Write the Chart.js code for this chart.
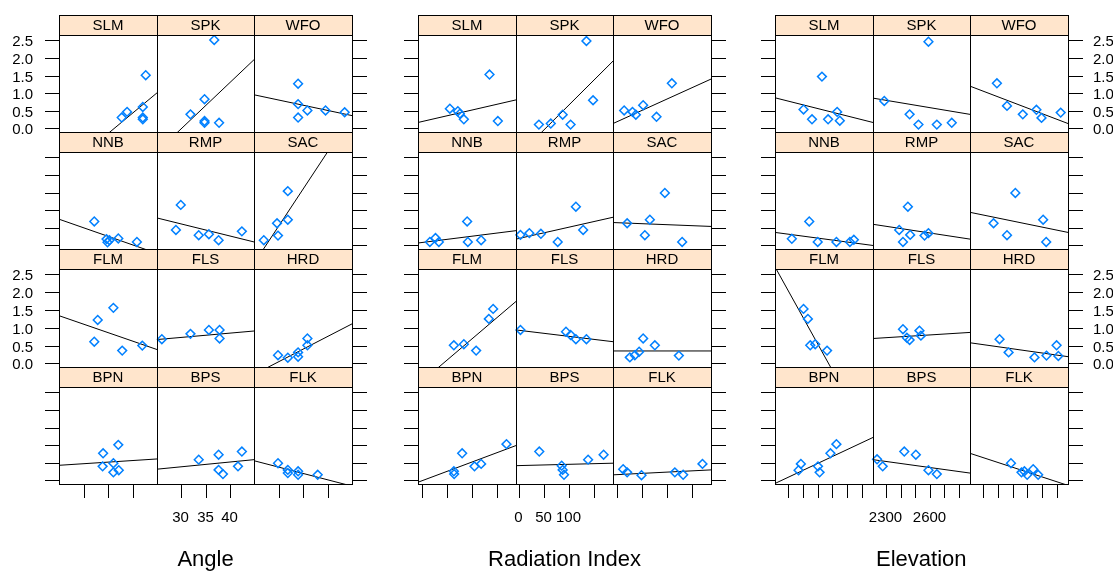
<!DOCTYPE html>
<html>
<head>
<meta charset="utf-8">
<script src="https://cdn.jsdelivr.net/npm/chart.js@4.4.1/dist/chart.umd.min.js"></script>
<style>
  html, body { margin: 0; padding: 0; background: #fff; overflow: hidden; }
  #wrap { position: relative; width: 1113px; height: 571px; overflow: hidden; }
  #wrap canvas { position: absolute; }
  .title { position: absolute; top: 546px; font: 22px "Liberation Sans", Arial, sans-serif; color: #000; transform: translateX(-50%); white-space: nowrap; }
</style>
</head>
<body>
<div id="wrap"></div>
<script>
// sites, in panel order (top-left to bottom-right)
const sites = ['SLM', 'SPK', 'WFO', 'NNB', 'RMP', 'SAC', 'FLM', 'FLS', 'HRD', 'BPN', 'BPS', 'FLK'];

// Angle
const angleRange = [25, 45];
const angleTicks = [30, 35, 40];
const angleLabels = ['30', '35', '40'];
const angleX = [
  [37.8, 38.9, 42.7, 42.1, 42.1, 42.1],
  [36.8, 31.9, 34.8, 34.8, 34.8, 37.8],
  [34.0, 34.0, 34.0, 35.9, 39.6, 43.5],
  [32.2, 34.7, 34.9, 35.3, 37.1, 40.9],
  [29.9, 28.9, 33.6, 35.7, 37.7, 42.5],
  [27.0, 29.7, 29.9, 31.9, 31.9],
  [32.9, 32.2, 36.1, 37.9, 42.0],
  [26.0, 31.9, 35.7, 37.9, 37.9],
  [29.9, 31.9, 34.0, 34.0, 35.9, 35.9],
  [34.0, 37.1, 33.9, 36.1, 36.1, 37.2],
  [33.6, 37.7, 37.7, 38.6, 41.7, 42.5],
  [29.9, 31.9, 31.9, 34.0, 34.0, 38.0]
];
const angleY = [
  [0.31, 0.47, 1.51, 0.61, 0.31, 0.26],
  [2.51, 0.40, 0.83, 0.21, 0.16, 0.16],
  [1.27, 0.69, 0.31, 0.51, 0.51, 0.46],
  [0.68, 0.18, 0.09, 0.15, 0.20, 0.10],
  [1.15, 0.44, 0.29, 0.32, 0.15, 0.40],
  [0.15, 0.63, 0.28, 1.54, 0.73],
  [1.22, 0.61, 1.56, 0.36, 0.50],
  [0.68, 0.83, 0.94, 0.94, 0.70],
  [0.23, 0.16, 0.19, 0.31, 0.70, 0.51],
  [0.77, 1.01, 0.40, 0.49, 0.23, 0.29],
  [0.59, 0.73, 0.30, 0.18, 0.40, 0.82],
  [0.49, 0.30, 0.21, 0.26, 0.16, 0.16]
];
// fitted line, value at left and right end of the x range
const angleFit = [
  [-1.30, 1.01], [-0.66, 1.95], [0.955, 0.365],
  [0.745, -0.225], [0.78, 0.10], [-0.51, 3.70],
  [1.34, 0.39], [0.67, 0.91], [-0.31, 1.11],
  [0.43, 0.61], [0.32, 0.59], [0.56, -0.16]
];

// Radiation Index
const radRange = [-7, 189];
const radTicks = [0, 50, 100, 150];
const radLabels = ['0', '50', '100', ''];
const radX = [
  [56.7, 72.7, 76.7, 84.7, 136, 152.7],
  [135.3, 39.3, 63.3, 87.3, 103.3, 148.7],
  [15.3, 32, 38.7, 53.3, 80, 110.7],
  [16.7, 28, 34.7, 91.3, 92.7, 119.3],
  [2, 20, 43.3, 77.3, 114, 128.7],
  [21.3, 56.7, 66.7, 96.7, 131.3],
  [64.7, 84.7, 109.3, 134.7, 143.3],
  [2, 94, 103.3, 114, 135.3],
  [26.7, 36.7, 45.3, 53.3, 76.7, 124.7],
  [64.7, 65.3, 81.3, 106, 119.3, 170],
  [40, 85.3, 87.3, 90, 138.7, 170],
  [13.3, 21.3, 50, 116.7, 133.3, 172]
];
const radY = [
  [0.56, 0.49, 0.42, 0.26, 1.53, 0.21],
  [2.48, 0.11, 0.14, 0.39, 0.11, 0.80],
  [0.51, 0.47, 0.39, 0.66, 0.33, 1.28],
  [0.10, 0.21, 0.10, 0.68, 0.10, 0.15],
  [0.30, 0.35, 0.33, 0.10, 1.10, 0.44],
  [0.63, 0.29, 0.73, 1.49, 0.10],
  [0.51, 0.54, 0.36, 1.25, 1.53],
  [0.94, 0.89, 0.80, 0.68, 0.68],
  [0.17, 0.23, 0.33, 0.70, 0.51, 0.22],
  [0.26, 0.18, 0.77, 0.40, 0.47, 1.03],
  [0.82, 0.42, 0.30, 0.16, 0.59, 0.73],
  [0.32, 0.23, 0.15, 0.23, 0.16, 0.47]
];
const radFit = [
  [0.17, 0.81], [-0.83, 1.91], [0.14, 1.40],
  [0.07, 0.42], [0.18, 0.80], [0.65, 0.54],
  [-0.60, 1.74], [0.94, 0.61], [0.35, 0.35],
  [-0.05, 0.99], [0.42, 0.49], [0.16, 0.30]
];

// Elevation
const elevRange = [2208, 2878];
const elevTicks = [2300, 2400, 2500, 2600, 2700, 2800];
const elevLabels = ['2300', '', '', '2600', '', ''];
const elevX = [
  [2403, 2461, 2529, 2571, 2633, 2651],
  [2286, 2461, 2522, 2591, 2649, 2752],
  [2392, 2461, 2569, 2662, 2697, 2828],
  [2323, 2442, 2500, 2628, 2720, 2747],
  [2389, 2449, 2415, 2465, 2564, 2591],
  [2369, 2461, 2518, 2708, 2729],
  [2403, 2433, 2449, 2483, 2564],
  [2415, 2442, 2461, 2529, 2539],
  [2410, 2472, 2649, 2731, 2800, 2812],
  [2369, 2385, 2502, 2513, 2587, 2628],
  [2236, 2275, 2424, 2504, 2591, 2649],
  [2488, 2560, 2580, 2599, 2640, 2674]
];
const elevY = [
  [0.54, 0.26, 1.47, 0.26, 0.47, 0.22],
  [0.78, 0.40, 0.11, 2.46, 0.11, 0.16],
  [1.28, 0.64, 0.40, 0.53, 0.30, 0.45],
  [0.19, 0.68, 0.10, 0.10, 0.10, 0.16],
  [0.44, 1.10, 0.10, 0.30, 0.28, 0.35],
  [0.63, 0.29, 1.49, 0.73, 0.10],
  [1.53, 1.25, 0.51, 0.54, 0.36],
  [0.96, 0.72, 0.66, 0.92, 0.78],
  [0.68, 0.31, 0.17, 0.22, 0.51, 0.21],
  [0.29, 0.47, 0.40, 0.23, 0.77, 1.03],
  [0.60, 0.40, 0.82, 0.73, 0.29, 0.18],
  [0.49, 0.23, 0.26, 0.16, 0.32, 0.16]
];
const elevFit = [
  [0.87, 0.17], [0.86, 0.40], [1.20, 0.14],
  [0.37, 0.0], [0.60, 0.18], [0.94, 0.37],
  [2.71, -2.25], [0.70, 0.87], [0.58, 0.19],
  [-0.085, 1.22], [0.59, 0.21], [0.77, -0.14]
];

// shared y axis
const yRange = [-0.1, 2.65];
const yTicks = [0, 0.5, 1, 1.5, 2, 2.5];
const yLabels = ['0.0', '0.5', '1.0', '1.5', '2.0', '2.5'];

const groups = [
  { title: 'Angle', range: angleRange, ticks: angleTicks, labels: angleLabels, xs: angleX, ys: angleY, fit: angleFit },
  { title: 'Radiation Index', range: radRange, ticks: radTicks, labels: radLabels, xs: radX, ys: radY, fit: radFit },
  { title: 'Elevation', range: elevRange, ticks: elevTicks, labels: elevLabels, xs: elevX, ys: elevY, fit: elevFit }
];

// layout
const groupLeft = [59.3, 418.3, 775];
const PANEL_W = 97.5;
const ROW_H = 117.2;
const TOP = 15;
const STRIP_H = 20;
const PADL = 60, PADR = 52, PADT = 2, PADB = 50;
const FONT = '"Liberation Sans", Arial, sans-serif';

const latticePlugin = {
  id: 'lattice',
  afterDraw(chart, args, o) {
    const { ctx, chartArea: a, scales } = chart;
    ctx.save();
    ctx.strokeStyle = '#000';
    ctx.lineWidth = 1;
    // strip
    ctx.fillStyle = '#ffe5cc';
    ctx.fillRect(a.left, a.top - STRIP_H, a.right - a.left, STRIP_H);
    ctx.strokeRect(a.left + 0.5, a.top - STRIP_H + 0.5, a.right - a.left, STRIP_H);
    ctx.strokeRect(a.left + 0.5, a.top + 0.5, a.right - a.left, a.bottom - a.top);
    ctx.fillStyle = '#000';
    ctx.font = '15px ' + FONT;
    ctx.textAlign = 'center';
    ctx.textBaseline = 'middle';
    ctx.fillText(o.name, (a.left + a.right) / 2, a.top - STRIP_H / 2 + 1);

    ctx.font = '15px ' + FONT;
    yTicks.forEach((v, i) => {
      const y = Math.round(scales.y.getPixelForValue(v)) + 0.5;
      if (o.left) {
        ctx.beginPath(); ctx.moveTo(a.left - 14, y); ctx.lineTo(a.left, y); ctx.stroke();
        if (o.leftLabels) {
          ctx.textAlign = 'right';
          ctx.fillText(yLabels[i], a.left - 26, y + 1);
        }
      }
      if (o.right) {
        ctx.beginPath(); ctx.moveTo(a.right, y); ctx.lineTo(a.right + 15, y); ctx.stroke();
        if (o.rightLabels) {
          ctx.textAlign = 'left';
          ctx.fillText(yLabels[i], a.right + 25, y + 1);
        }
      }
    });
    if (o.bottom) {
      o.xTicks.forEach((v, i) => {
        const x = Math.round(scales.x.getPixelForValue(v)) + 0.5;
        ctx.beginPath(); ctx.moveTo(x, a.bottom); ctx.lineTo(x, a.bottom + 14); ctx.stroke();
        if (o.bottomLabels && o.xLabels[i]) {
          ctx.textAlign = 'center';
          ctx.fillText(o.xLabels[i], x - 1, a.bottom + 34);
        }
      });
    }
    ctx.restore();
  }
};

const wrap = document.getElementById('wrap');

groups.forEach((g, gi) => {
  sites.forEach((site, si) => {
    const row = Math.floor(si / 3);
    const col = si % 3;
    const pl = Math.round(groupLeft[gi] + col * PANEL_W);
    const pr = Math.round(groupLeft[gi] + (col + 1) * PANEL_W);
    const st = Math.round(TOP + row * ROW_H);
    const pb = Math.round(TOP + (row + 1) * ROW_H);
    const w = pr - pl, h = pb - st - STRIP_H;

    const canvas = document.createElement('canvas');
    canvas.width = w + PADL + PADR;
    canvas.height = h + STRIP_H + PADT + PADB;
    canvas.style.left = (pl - PADL) + 'px';
    canvas.style.top = (st - PADT) + 'px';
    wrap.appendChild(canvas);

    const pts = g.xs[si].map((x, k) => ({ x: x, y: g.ys[si][k] }));

    new Chart(canvas, {
      type: 'scatter',
      data: {
        datasets: [
          {
            data: pts,
            pointStyle: 'rectRot',
            pointRadius: 4.4,
            borderColor: '#0080ff',
            backgroundColor: 'rgba(0,0,0,0)',
            pointBorderWidth: 1.5,
            clip: false
          },
          {
            data: [{ x: g.range[0], y: g.fit[si][0] }, { x: g.range[1], y: g.fit[si][1] }],
            showLine: true,
            borderColor: '#000',
            borderWidth: 1,
            pointRadius: 0,
            clip: 0
          }
        ]
      },
      options: {
        responsive: false,
        animation: false,
        devicePixelRatio: 1,
        events: [],
        layout: { padding: { left: PADL, right: PADR, top: PADT + STRIP_H, bottom: PADB } },
        scales: {
          x: { type: 'linear', min: g.range[0], max: g.range[1], display: false },
          y: { type: 'linear', min: yRange[0], max: yRange[1], display: false }
        },
        plugins: {
          legend: { display: false },
          tooltip: { enabled: false },
          lattice: {
            name: site,
            left: col === 0,
            right: col === 2,
            bottom: row === 3,
            leftLabels: gi === 0 && (row === 0 || row === 2),
            rightLabels: gi === 2 && (row === 0 || row === 2),
            bottomLabels: col === 1,
            xTicks: g.ticks,
            xLabels: g.labels
          }
        }
      },
      plugins: [latticePlugin]
    });
  });

  const t = document.createElement('div');
  t.className = 'title';
  t.textContent = g.title;
  t.style.left = (groupLeft[gi] + 1.5 * PANEL_W) + 'px';
  wrap.appendChild(t);
});
</script>
</body>
</html>
